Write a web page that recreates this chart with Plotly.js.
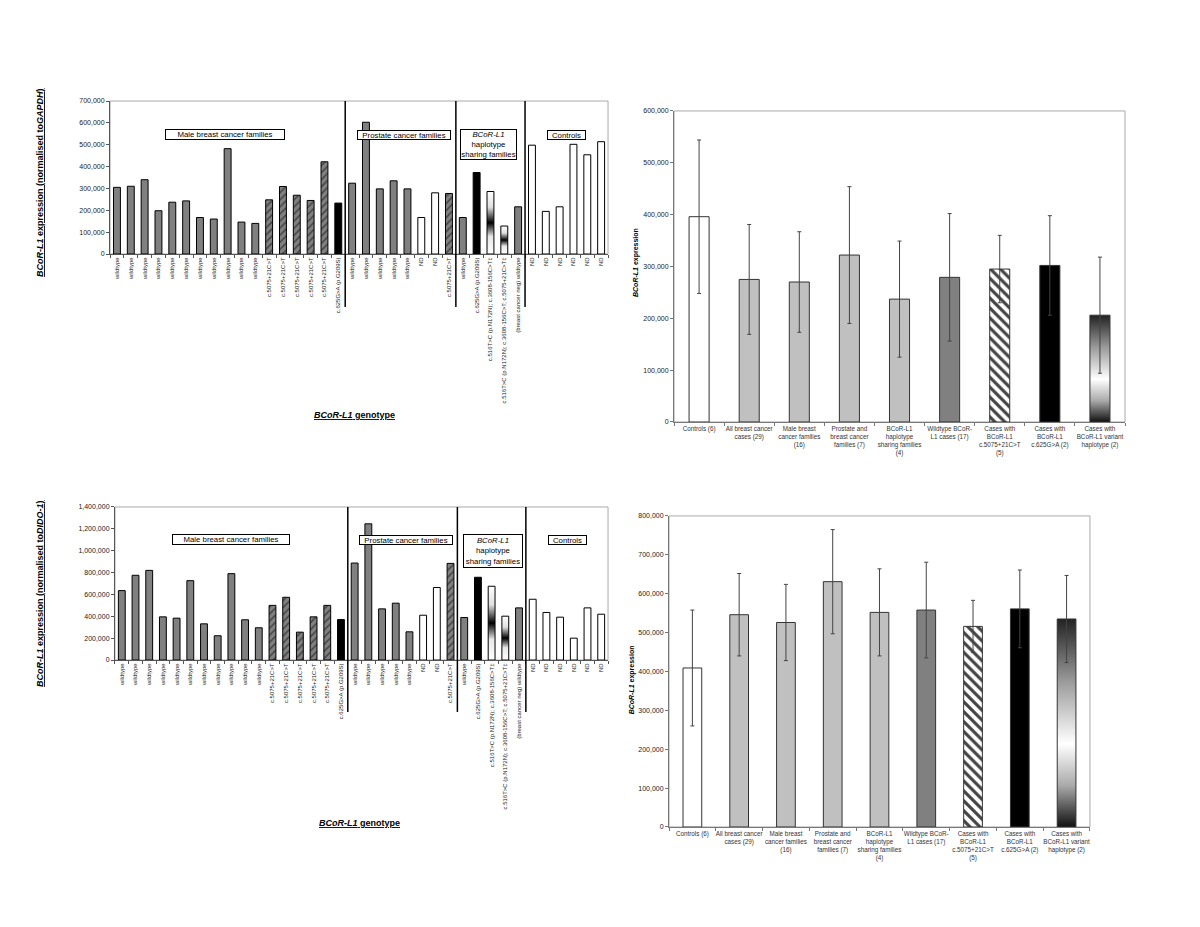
<!DOCTYPE html>
<html>
<head>
<meta charset="utf-8">
<script src="https://cdn.plot.ly/plotly-3.0.1.min.js"></script>
<style>
  body { margin: 0; background: #fff; }
  #chart { width: 1200px; height: 927px; }
</style>
</head>
<body>
<div id="chart"></div>
<script>
// Datos: expresion por individuo (paneles izquierdos)
var genotipos = [
  'wildtype','wildtype','wildtype','wildtype','wildtype','wildtype','wildtype','wildtype','wildtype','wildtype','wildtype',
  'c.5075+21C>T','c.5075+21C>T','c.5075+21C>T','c.5075+21C>T','c.5075+21C>T','c.625G>A (p.G209S)',
  'wildtype','wildtype','wildtype','wildtype','wildtype','ND','ND','c.5075+21C>T',
  'wildtype','c.625G>A (p.G209S)','c.516T>C (p.N172N); c.3608-156C>T‡',
  'c.516T>C (p.N172N); c.3608-156C>T; c.5075+21C>T‡','(breast cancer neg) wildtype',
  'ND','ND','ND','ND','ND','ND'
];
var tipoGenotipo = [
  'wt','wt','wt','wt','wt','wt','wt','wt','wt','wt','wt',
  'rayas','rayas','rayas','rayas','rayas','negro',
  'wt','wt','wt','wt','wt','nd','nd','rayas',
  'wt','negro','hap','hap','wt',
  'nd','nd','nd','nd','nd','nd'
];
var expresionGAPDH = [305000,310000,340000,198000,237000,243000,167000,160000,482000,146000,140000,
  248000,309000,269000,245000,422000,233000,
  324000,603000,298000,335000,298000,167000,280000,277000,
  167000,373000,286000,128000,216000,
  498000,195000,216000,502000,454000,514000];
var expresionDIDO = [635000,775000,820000,395000,383000,726000,331000,222000,790000,368000,295000,
  500000,574000,255000,395000,500000,370000,
  887000,1246000,468000,520000,258000,410000,663000,884000,
  389000,757000,675000,401000,477000,
  556000,435000,392000,200000,477000,419000];
var familias = ['Male breast cancer families','Prostate cancer families','<i>BCoR-L1</i><br>haplotype<br>sharing families','Controls'];
var tamFamilias = [17, 8, 5, 6];

// Datos: medias por grupo (paneles derechos)
var grupos = ['Controls (6)','All breast cancer<br>cases (29)','Male breast<br>cancer families<br>(16)',
  'Prostate and<br>breast cancer<br>families (7)','BCoR-L1<br>haplotype<br>sharing families<br>(4)',
  'Wildtype BCoR-<br>L1 cases (17)','Cases with<br>BCoR-L1<br>c.5075+21C>T<br>(5)',
  'Cases with<br>BCoR-L1<br>c.625G>A (2)','Cases with<br>BCoR-L1 variant<br>haplotype (2)'];
var tipoGrupo = ['nd','todos','todos','todos','todos','wt','rayas','negro','hap'];
var mediaGAPDH = [396000,275000,270000,322000,237000,279000,295000,302000,206000];
var errorGAPDH = [148000,106000,97000,132000,112000,123000,65000,96000,112000];
var mediaDIDO = [409000,546000,526000,631000,552000,558000,516000,561000,535000];
var errorDIDO = [149000,106000,98000,134000,112000,123000,67000,100000,112000];

var fuente = 'Liberation Sans, Arial, sans-serif';
var colores = {wt:'#808080', todos:'#c0c0c0', nd:'#ffffff', negro:'#000000', rayas:'#808080', hap:'#ffffff'};

function indices(n){ var a=[]; for (let i=0;i<n;i++){ a.push(i); } return a; }

/* barras por individuo */
function barrasIzq(valores, xa, ya){
  var xs=[], ys=[], col=[], forma=[];
  var xh=[], yh=[];
  for (let i=0;i<valores.length;i++){
    if (tipoGenotipo[i] === 'hap'){ xh.push(i); yh.push(valores[i]); continue; }
    xs.push(i); ys.push(valores[i]);
    col.push(colores[tipoGenotipo[i]]);
    forma.push(tipoGenotipo[i] === 'rayas' ? '/' : '');
  }
  var normal = {
    type:'bar', x:xs, y:ys, xaxis:xa, yaxis:ya, width:0.5, name:'individual',
    marker:{color:col, line:{color:'#000', width:1},
      pattern:{shape:forma, fillmode:'overlay', fgcolor:'#ffffff', fgopacity:1, size:5, solidity:0.3}},
    hoverinfo:'skip'
  };
  var hap = {
    type:'bar', x:xh, y:yh, xaxis:xa, yaxis:ya, width:0.5, name:'hapIzq',
    marker:{color:'#ffffff', line:{color:'#000', width:1}}, hoverinfo:'skip'
  };
  return [normal, hap];
}

/* barras de medias con error */
function barrasDer(medias, errores, xa, ya){
  var xs=[], ys=[], es=[], col=[], forma=[];
  var xh=[], yh=[], eh=[];
  for (let i=0;i<medias.length;i++){
    if (tipoGrupo[i] === 'hap'){ xh.push(i); yh.push(medias[i]); eh.push(errores[i]); continue; }
    xs.push(i); ys.push(medias[i]); es.push(errores[i]);
    col.push(tipoGrupo[i] === 'rayas' ? '#ffffff' : colores[tipoGrupo[i]]);
    forma.push(tipoGrupo[i] === 'rayas' ? '\\' : '');
  }
  var err = function(a){ return {type:'data', array:a, color:'#444', thickness:1, width:2}; };
  var normal = {
    type:'bar', x:xs, y:ys, xaxis:xa, yaxis:ya, width:0.4, name:'grupo', error_y:err(es),
    marker:{color:col, line:{color:'#333', width:1},
      pattern:{shape:forma, fillmode:'overlay', fgcolor:'#888888', fgopacity:1, size:7, solidity:0.45}},
    hoverinfo:'skip'
  };
  var hap = {
    type:'bar', x:xh, y:yh, xaxis:xa, yaxis:ya, width:0.4, name:'hapDer', error_y:err(eh),
    marker:{color:'#ffffff', line:{color:'#333', width:1}}, hoverinfo:'skip'
  };
  return [normal, hap];
}

var data = [].concat(
  barrasIzq(expresionGAPDH, 'x', 'y'),
  barrasDer(mediaGAPDH, errorGAPDH, 'x2', 'y2'),
  barrasIzq(expresionDIDO, 'x3', 'y3'),
  barrasDer(mediaDIDO, errorDIDO, 'x4', 'y4')
);

function ejeXIzq(dom, anchor){
  return {domain:dom, anchor:anchor, range:[-0.5, genotipos.length-0.5], tickmode:'array',
    tickvals:indices(genotipos.length), ticktext:genotipos, tickangle:-90, ticks:'',
    tickfont:{family:fuente, size:6, color:'#222'}, showline:true, linecolor:'#555', linewidth:1,
    showgrid:false, zeroline:false, automargin:false,
    minor:{ticks:'outside', ticklen:3, tickcolor:'#555', tickmode:'linear', tick0:-0.5, dtick:1, showgrid:false}};
}
function ejeXDer(dom, anchor){
  return {domain:dom, anchor:anchor, range:[-0.5, grupos.length-0.5], tickmode:'array',
    tickvals:indices(grupos.length), ticktext:grupos, tickangle:0, ticks:'',
    tickfont:{family:fuente, size:6.3, color:'#333'}, showline:true, linecolor:'#777', linewidth:1,
    showgrid:false, zeroline:false, automargin:false,
    minor:{ticks:'outside', ticklen:3, tickcolor:'#777', tickmode:'linear', tick0:-0.5, dtick:1, showgrid:false}};
}
function ejeY(dom, anchor, rango, paso, colorLinea){
  return {domain:dom, anchor:anchor, range:rango, dtick:paso, tick0:0, tickformat:',d',
    ticks:'outside', ticklen:3, tickcolor:colorLinea, showline:true, linecolor:colorLinea, linewidth:1,
    tickfont:{family:fuente, size:7, color:'#222'}, showgrid:false, zeroline:false, automargin:false};
}

var dominios = {
  x:[0.0917,0.5067], y:[0.7260,0.8910],
  x2:[0.5617,0.9375], y2:[0.5448,0.8803],
  x3:[0.0958,0.5067], y3:[0.2880,0.4531],
  x4:[0.5575,0.9083], y4:[0.1079,0.4434]
};

var shapes = [];
// marco gris del area de trazado
['', '2', '3', '4'].forEach(function(s){
  shapes.push({type:'rect', xref:'x'+s+' domain', yref:'y'+s+' domain', x0:0, x1:1, y0:0, y1:1,
    line:{color:'#aaa', width:1}, layer:'below'});
});
// separadores de familias
var acum = 0;
for (let k=0;k<tamFamilias.length-1;k++){
  acum += tamFamilias[k];
  shapes.push({type:'line', xref:'x', yref:'paper', x0:acum-0.5, x1:acum-0.5, y0:0.6688, y1:0.8910, line:{color:'#000', width:1.5}});
  shapes.push({type:'line', xref:'x3', yref:'paper', x0:acum-0.5, x1:acum-0.5, y0:0.2320, y1:0.4531, line:{color:'#000', width:1.5}});
}

function caja(texto, x, y, w, h){
  return {text:texto, xref:'paper', yref:'paper', x:x, y:y, xanchor:'center', yanchor:'middle',
    showarrow:false, bordercolor:'#000', borderwidth:1, borderpad:0, bgcolor:'#fff',
    width:w, height:h, font:{family:fuente, size:7.8, color:'#000'}};
}
function titulo(texto, x, y, ang, tam){
  return {text:texto, xref:'paper', yref:'paper', x:x, y:y, xanchor:'center', yanchor:'middle',
    showarrow:false, textangle:ang, font:{family:fuente, size:tam, color:'#000'}};
}
var sub = function(t){ return '<span style="text-decoration:underline">' + t + '</span>'; };

var annotations = [
  caja(familias[0], 0.1875, 0.8544, 118, 9),
  caja(familias[1], 0.3364, 0.8544, 92, 8),
  caja(familias[2], 0.4067, 0.8436, 55, 29),
  caja(familias[3], 0.4717, 0.8544, 37, 8),
  caja(familias[0], 0.1921, 0.4175, 116, 9),
  caja(familias[1], 0.3383, 0.4175, 92, 8),
  caja(familias[2], 0.4106, 0.4056, 58, 32),
  caja(familias[3], 0.4725, 0.4175, 37, 8),
  titulo(sub('<b><i>BCoR-L1</i> expression (normalised to<i>GAPDH</i>)</b>'), 0.0333, 0.8037, -90, 9),
  titulo(sub('<b><i>BCoR-L1</i> expression (normalised to<i>DIDO-1</i>)</b>'), 0.0333, 0.3603, -90, 9),
  titulo(sub('<b><i>BCoR-L1</i> genotype</b>'), 0.2958, 0.5523, 0, 9),
  titulo(sub('<b><i>BCoR-L1</i> genotype</b>'), 0.2992, 0.1122, 0, 9),
  titulo('<b><i>BCoR-L1</i> expression</b>', 0.5300, 0.7163, -90, 7),
  titulo('<b><i>BCoR-L1</i> expression</b>', 0.5270, 0.2665, -90, 7)
];

var layout = {
  width:1200, height:927, margin:{l:0, r:0, t:0, b:0},
  paper_bgcolor:'#fff', plot_bgcolor:'#fff', showlegend:false, barmode:'overlay',
  font:{family:fuente},
  xaxis: ejeXIzq(dominios.x, 'y'),
  yaxis: ejeY(dominios.y, 'x', [0, 700000], 100000, '#555'),
  xaxis2: ejeXDer(dominios.x2, 'y2'),
  yaxis2: ejeY(dominios.y2, 'x2', [0, 600000], 100000, '#777'),
  xaxis3: ejeXIzq(dominios.x3, 'y3'),
  yaxis3: ejeY(dominios.y3, 'x3', [0, 1400000], 200000, '#555'),
  xaxis4: ejeXDer(dominios.x4, 'y4'),
  yaxis4: ejeY(dominios.y4, 'x4', [0, 800000], 100000, '#777'),
  shapes: shapes,
  annotations: annotations
};

/* Degradados para las barras de haplotipo */
function degradado(defs, id, paradas){
  var ns = 'http://www.w3.org/2000/svg';
  var g = document.createElementNS(ns, 'linearGradient');
  g.setAttribute('id', id);
  g.setAttribute('x1', '0'); g.setAttribute('y1', '0');
  g.setAttribute('x2', '0'); g.setAttribute('y2', '1');
  paradas.forEach(function(p){
    var s = document.createElementNS(ns, 'stop');
    s.setAttribute('offset', p[0]);
    s.setAttribute('stop-color', p[1]);
    g.appendChild(s);
  });
  defs.appendChild(g);
}

var gd = document.getElementById('chart');
Plotly.newPlot(gd, data, layout, {staticPlot:true}).then(function(){
  var svg = gd.querySelector('svg.main-svg');
  var defs = svg.querySelector('defs');
  degradado(defs, 'degIzq', [[0,'#ffffff'],[0.25,'#e0e0e0'],[0.5,'#000000'],[0.72,'#e8e8e8'],[1,'#ffffff']]);
  degradado(defs, 'degDer', [[0,'#222222'],[0.3,'#9a9a9a'],[0.6,'#ffffff'],[0.8,'#aaaaaa'],[1,'#111111']]);
  gd.querySelectorAll('g.trace.bars').forEach(function(g){
    var cd = g.__data__;
    var nombre = cd && cd[0] && cd[0].trace ? cd[0].trace.name : '';
    var id = nombre === 'hapIzq' ? 'degIzq' : (nombre === 'hapDer' ? 'degDer' : null);
    if (!id) return;
    g.querySelectorAll('g.point path').forEach(function(p){ p.style.fill = 'url(#' + id + ')'; });
  });
});
</script>
</body>
</html>
